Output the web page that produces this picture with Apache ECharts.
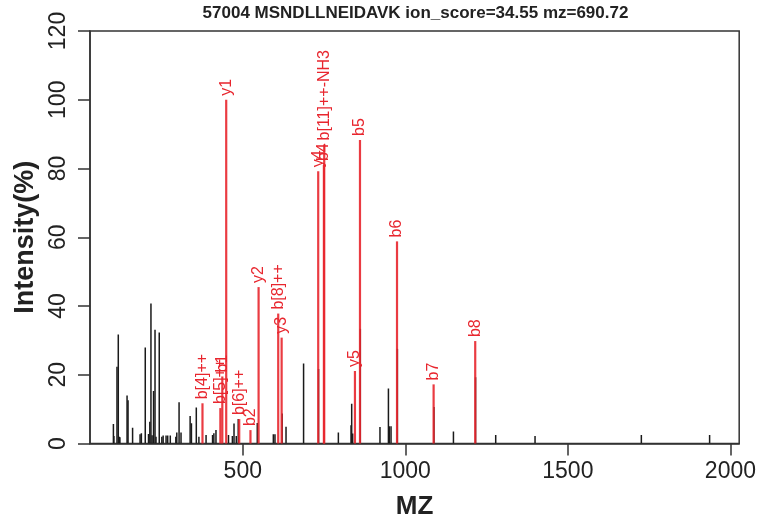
<!DOCTYPE html>
<html>
<head>
<meta charset="utf-8">
<script src="https://cdn.jsdelivr.net/npm/echarts@6/dist/echarts.min.js"></script>
<style>
html,body{margin:0;padding:0;background:#fff;}
#chart{width:759px;height:529px;}
</style>
</head>
<body>
<div id="chart"></div>
<script>
// ---- data ----
const titleText = "57004 MSNDLLNEIDAVK ion_score=34.55 mz=690.72";
const xTicks = [500, 1000, 1500, 2000];
const yTicks = [0, 20, 40, 60, 80, 100, 120];

// unmatched (black) peaks
const blackMz = [102,103.5,113,117,120,122,144,147,161,184,188,200,210,214,217.5,221,225.5,230,233,243,
  251,255,264,269,277,294,297,304,310,338,342,357,365,387,407,411,417.5,456,468,473,480,486,
  544.6,594,599,621,633,687,733,794,833,835,838,861.5,922,948,950.7,956,975.5,1088,1148,1216,
  1278,1399,1726,1936];
const blackInt = [5.7,2.2,22.3,31.7,2.0,1.8,14.0,12.6,4.6,2.7,3.0,27.9,2.8,6.3,40.7,2.4,15.3,33.1,2.0,32.3,
  2.0,2.3,2.3,2.3,2.3,2.0,3.2,12.0,3.2,8.0,5.9,10.5,2.0,2.5,2.5,3.0,3.9,2.5,2.2,5.8,2.2,7.1,
  6.0,2.7,2.7,8.7,4.9,23.3,21.7,3.2,5.3,11.6,2.9,33.4,4.8,16.0,5.0,5.0,27.6,10.6,3.5,19.3,
  2.5,2.2,2.5,2.5];

// matched (red) peaks with their ion labels
const ionLabels = ["b[4]++","b[5]++","b1","y1","b[6]++","b2","y2","b[8]++","y3","y4","b4","b[11]++-NH3","y5","b5","b6","b7","b8"];
const ionMz     = [376,431,437,449,489,523.6,548.6,609,619.5,732,749.5,750.5,845,860.5,974.4,1087,1215];
const ionInt    = [11.7,10.3,19.5,100,7.1,3.9,45.5,37.8,30.8,79.2,81.0,87.0,21.1,88.3,58.8,17.2,29.8];

// ---- build chart ----
const FONT = "'Liberation Sans', Arial, Helvetica, sans-serif";
const RED = '#e8262e';
const blackData = blackMz.map((m, i) => [m, blackInt[i]]);
const redData = ionMz.map((m, i) => [m, ionInt[i], i]);

function peakRenderer(color, width, withLabel) {
  return function (params, api) {
    const x = api.value(0), y = api.value(1);
    const p0 = api.coord([x, 0]);
    const p1 = api.coord([x, y]);
    const children = [{
      type: 'line',
      shape: { x1: p0[0], y1: p0[1], x2: p1[0], y2: p1[1] },
      style: { stroke: color, lineWidth: width, opacity: withLabel ? 0.9 : 1 }
    }];
    if (withLabel) {
      const idx = api.value(2);
      children.push({
        type: 'text',
        x: p1[0], y: p1[1] - 4,
        rotation: Math.PI / 2,
        style: { text: ionLabels[idx], align: 'left', verticalAlign: 'middle',
                 font: '16px ' + FONT, fill: RED }
      });
    }
    return { type: 'group', children: children };
  };
}

const chart = echarts.init(document.getElementById('chart'), null, { renderer: 'canvas' });
chart.setOption({
  animation: false,
  backgroundColor: '#fff',
  grid: { left: 90, right: 19, top: 31, bottom: 85.5, show: true, borderColor: '#333', borderWidth: 1.5, backgroundColor: 'transparent' },
  graphic: [{
    type: 'text', x: 415.5, y: 13,
    style: { text: titleText, align: 'center', verticalAlign: 'middle', font: 'bold 17px ' + FONT, fill: '#222' }
  }],
  xAxis: {
    type: 'value', min: 30, max: 2027,
    name: 'MZ', nameLocation: 'middle', nameGap: 50,
    nameTextStyle: { fontFamily: FONT, fontWeight: 'bold', fontSize: 26, color: '#222' },
    axisLine: { show: true, lineStyle: { color: '#333', width: 1.5 } },
    axisTick: { show: true, length: 12, lineStyle: { color: '#333', width: 1.5 }, customValues: xTicks },
    axisLabel: { fontFamily: FONT, fontSize: 23, color: '#222', margin: 17, customValues: xTicks,
                 formatter: v => String(v) },
    splitLine: { show: false }
  },
  yAxis: {
    type: 'value', min: 0, max: 120, interval: 20,
    name: 'Intensity(%)', nameLocation: 'middle', nameGap: 40, nameRotate: 90,
    nameTextStyle: { fontFamily: FONT, fontWeight: 'bold', fontSize: 27, color: '#222' },
    axisLine: { show: true, lineStyle: { color: '#333', width: 1.5 } },
    axisTick: { show: true, length: 12, lineStyle: { color: '#333', width: 1.5 } },
    axisLabel: { fontFamily: FONT, fontSize: 23, color: '#222', margin: 20, rotate: 90,
                 formatter: v => String(v) },
    splitLine: { show: false }
  },
  series: [
    {
      type: 'custom', name: 'other', data: blackData, silent: true, clip: true,
      renderItem: peakRenderer('#1a1a1a', 1.5, false)
    },
    {
      type: 'custom', name: 'matched', data: redData, silent: true,
      renderItem: peakRenderer(RED, 2.2, true)
    }
  ]
});
</script>
</body>
</html>
